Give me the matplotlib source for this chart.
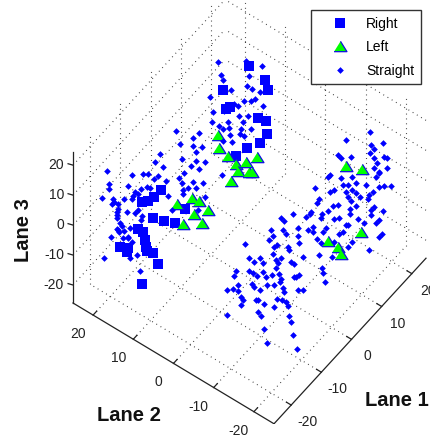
import matplotlib
matplotlib.use("Agg")
import matplotlib.pyplot as plt
from mpl_toolkits.mplot3d import proj3d

plt.rcParams["font.family"] = ["Liberation Sans", "DejaVu Sans"]

lane1_lim = (-25.7, 24.7)
lane2_lim = (-25, 25)
lane3_lim = (-26, 24.4)
lane1_ticks = [-20, -10, 0, 10, 20]
lane2_ticks = [-20, -10, 0, 10, 20]
lane3_ticks = [-20, -10, 0, 10, 20]

right_lane1 = [-14.1, -15.0, -15.6, -16.3, -15.2, -13.8, -12.5, -16.8, -16.2, -16.1, -15.9, -15.2, -14.6, -18.9, -18.1, -16.3, -15.7, -18.0,
               13.6, 15.5, 15.8, 10.5, 11.3, 10.8, 14.6, 15.6, 15.7, 14.9, 13.3, 12.0, -4.1]
right_lane2 = [11.7, 13.0, 13.8, 14.8, 13.1, 11.4, 9.6, 15.4, 14.6, 14.4, 14.1, 13.1, 12.3, 18.3, 17.2, 14.8, 14.0, 17.0,
               10.7, 8.1, 7.6, 14.9, 13.7, 14.4, 9.2, 7.9, 7.8, 8.9, 11.0, 12.8, 13.4]
right_lane3 = [9.6, 7.2, 5.9, 5.5, 0.5, -0.8, -1.5, -3.2, -4.5, -6.9, -9.2, -11.2, -14.9, -9.2, -10.9, -21.6, -10.9, -9.6,
               21.6, 16.9, 13.6, 13.6, 7.9, 7.2, 4.2, 3.2, -1.2, -4.2, -5.9, -8.6, -8.9]

left_lane1 = [9.9, 10.0, 11.1, 12.0, 13.2, 14.5, 12.3, 13.6, 13.9, 11.4,
              -5.1, -3.3, -2.5, -1.4, -3.1, -4.4, -2.1,
              11.2, 13.1, 12.9, 9.1, 10.3, 10.6]
left_lane2 = [15.7, 15.5, 14.1, 12.8, 11.2, 9.4, 12.4, 10.7, 10.2, 13.6,
              14.7, 12.2, 11.1, 9.7, 11.9, 13.7, 10.6,
              -15.3, -17.9, -17.6, -12.4, -14.0, -14.5]
left_lane3 = [-1.5, -5.9, -8.6, -11.2, -10.6, -8.9, -13.3, -13.9, -13.6, -16.9,
              -7.2, -5.2, -6.2, -9.2, -10.6, -13.9, -13.6,
              11.9, 10.9, -10.2, -13.3, -15.3, -17.6]

straight_lane1 = [
    -14.3, -11.7, -14.8, -14.0, -20.5, -17.5, -16.2, -15.6, -14.6, -15.0, -12.0, -11.4, -20.2, -20.2, -18.0, -13.6, -11.7, -16.5, -15.7, -15.4,
    -17.3, -17.4, -16.8, -21.1, -19.8, -18.5, -17.5, -13.3, -11.6, -19.2, -19.9, -19.6, -12.9, -19.2, -19.3, -18.1, -19.4, -19.3, -17.2, -16.8,
    -16.3, -16.5, -18.9, -18.8, -19.4, -18.5, -19.2, -17.8, -19.0, -20.0, -18.6, -18.0, -17.5, -18.0, -16.9, -20.9, -17.8, -16.7,
    9.9, 13.2, 15.1, 10.3, 13.6, 10.5, 13.3, 13.9, 11.4, 9.0, 13.0, 13.8, 14.3, 14.9, 12.3, 11.8, 15.2, 9.3, 13.4, 9.2, 12.9, 10.0, 10.5, 11.1, 11.2,
    4.9, 7.6, 12.6, 12.5, 13.0, 13.8, 6.9, 5.4, 6.9, 11.6, 8.0, 7.3, 7.3, 8.4, 6.7, 7.6, 10.6, 12.4, 11.3, 10.5,
    -3.2, -2.0, -3.8, -2.8, -4.4, -1.8, -2.6, 0.2,
    11.2, 14.0, 15.5, 14.1, 14.4, 14.0, 10.3, 10.6, 11.8, 15.7, 16.0, 14.4, 14.8, 14.4, 11.9, 9.3, 9.1, 10.6, 15.0, 14.7, 16.0, 15.1,
    10.9, 11.5, 12.3, 13.6, 15.6, 16.4, 15.0, 7.5, 9.8, 9.3, 11.9, 12.3, 11.1, 14.3, 13.8, 11.5, 11.8, 12.8, 13.7, 8.0, 7.8, 9.7, 10.2, 12.4,
    14.4, 14.2, 9.1, 11.6, 7.1, 7.0, 6.5, 8.4, 8.3, 15.5, 14.1, 11.6, 9.8, 10.4, 12.7, 15.0, 14.7, 11.1, 8.9, 8.5, 7.3, 6.7, 5.6, 5.6, 5.7, 7.3,
    11.5, 10.9, 10.4, 13.2, 15.4, 15.0, 7.8, 8.3, 9.8, 13.8, 11.5, 6.2, 8.0, 9.5, 11.9,
    -11.3, -10.9, -9.8, -12.4, -12.2, -12.7, -11.0, -10.7, -15.5, -12.1, -11.7, -10.4, -10.3, -12.2, -15.0, -13.7, -11.3, -11.8, -11.6, -10.1,
    -9.7, -14.4, -13.4, -11.8, -13.4, -16.6, -16.8, -15.0, -14.6, -14.1, -13.0, -12.3, -11.5, -11.3, -11.4, -9.7, -9.1, -9.5, -6.4, -6.3, -6.0,
    -16.3, -14.7, -14.4, -12.9, -12.1, -17.6, -16.9, -16.3, -13.7, -11.0, -10.9, -9.2, -8.6, -16.0, -15.7, -14.2, -14.0, -11.7, -11.1, -13.3,
    -16.0, -10.7, -10.4, -12.1, -17.6, -14.0, -13.6, -10.3, -10.1, -13.3, -9.8, -12.9, -9.4]
straight_lane2 = [
    12.0, 8.5, 12.7, 11.5, 20.4, 16.4, 14.6, 13.8, 12.3, 13.0, 8.8, 8.0, 20.1, 20.1, 17.0, 11.0, 8.5, 14.9, 14.0, 13.5,
    16.0, 16.2, 15.4, 21.2, 19.4, 17.6, 16.4, 10.6, 8.3, 18.6, 19.6, 19.3, 10.1, 18.6, 18.8, 17.2, 18.9, 18.8, 15.9, 15.4,
    14.8, 14.9, 18.3, 18.1, 18.9, 17.6, 18.6, 16.7, 18.5, 19.7, 17.8, 17.0, 16.4, 17.0, 15.6, 21.0, 16.7, 15.2,
    15.7, 11.2, 8.6, 15.2, 10.7, 14.9, 11.0, 10.2, 13.6, 17.0, 11.5, 10.4, 9.7, 8.9, 12.4, 13.1, 8.4, 16.5, 10.8, 16.6, 11.6, 15.5, 14.9, 14.1, 13.9,
    22.4, 18.7, 12.0, 12.1, 11.5, 10.4, 19.7, 21.8, 19.7, 13.4, 18.2, 19.2, 19.2, 17.8, 20.0, 18.7, 14.7, 12.3, 13.7, 14.9,
    12.1, 10.5, 12.9, 11.6, 13.7, 10.1, 11.3, 7.4,
    -15.3, -19.0, -21.1, -19.2, -19.7, -19.0, -14.0, -14.5, -16.1, -21.4, -21.8, -19.7, -20.2, -19.7, -16.3, -12.7, -12.4, -14.5, -20.5, -20.0, -21.8, -20.6,
    -14.8, -15.6, -16.8, -18.5, -21.3, -22.4, -20.5, -10.2, -13.4, -12.7, -16.3, -16.8, -15.2, -19.5, -18.9, -15.6, -16.1, -17.4, -18.7, -11.0, -10.6, -13.2, -13.9, -16.9,
    -19.7, -19.3, -12.4, -15.8, -9.7, -9.5, -8.9, -11.4, -11.3, -21.1, -19.2, -15.8, -13.4, -14.2, -17.2, -20.5, -20.0, -15.2, -12.1, -11.6, -10.0, -9.2, -7.6, -7.6, -7.7, -10.0,
    -15.6, -14.8, -14.2, -18.1, -21.0, -20.5, -10.6, -11.3, -13.4, -18.9, -15.6, -8.4, -11.0, -12.9, -16.3,
    -15.9, -16.4, -17.9, -14.3, -14.6, -14.0, -16.2, -16.7, -10.1, -14.8, -15.3, -17.1, -17.2, -14.6, -10.8, -12.5, -15.9, -15.1, -15.4, -17.5,
    -18.0, -11.6, -13.0, -15.1, -13.0, -8.7, -8.4, -10.8, -11.4, -12.1, -13.5, -14.5, -15.6, -15.9, -15.8, -18.0, -18.8, -18.3, -22.5, -22.7, -23.0,
    -9.0, -11.3, -11.6, -13.7, -14.8, -7.2, -8.2, -9.0, -12.5, -16.2, -16.4, -18.7, -19.5, -9.5, -9.8, -11.9, -12.2, -15.3, -16.1, -13.2,
    -9.5, -16.7, -17.1, -14.8, -7.2, -12.2, -12.7, -17.2, -17.5, -13.2, -17.9, -13.7, -18.5]
straight_lane3 = [
    21.6, 20.0, 19.0, 17.3, 15.9, 14.6, 14.9, 14.9, 14.3, 13.3, 13.9, 15.3, 11.6, 9.9, 10.9, 12.6, 11.9, 10.2, 10.6, 10.2,
    9.2, 7.6, 8.2, 6.9, 6.9, 6.9, 6.5, 7.6, 9.6, 5.2, 4.9, 5.5, 2.9, 3.5, 2.5, 2.2, 1.5, 0.5, 2.2, 2.9,
    0.8, -0.2, -1.2, -2.2, -3.2, -3.9, -3.5, -2.9, -4.5, -5.9, -6.2, -6.2, -7.6, -5.9, -11.9, -12.9, -12.9, -17.3,
    23.0, 23.3, 21.6, 18.6, 18.3, 16.9, 14.9, 13.9, 13.6, 11.2, 9.9, 9.9, 10.6, 12.9, 8.2, 8.9, 8.2, 6.2, 4.9, 2.9, 2.9, 1.5, 0.5, 2.9, 0.8,
    -0.2, -0.8, 0.5, -1.2, -1.8, 0.5, -2.5, -4.5, -5.2, -3.9, -5.5, -7.2, -10.2, -10.6, -11.9, -12.6, 6.5, 4.9, -1.5, -3.5,
    0.2, -0.2, -1.8, -1.8, -3.9, -4.9, -9.2, 2.5,
    20.3, 23.0, 19.3, 18.6, 17.6, 15.9, 15.3, 14.3, 14.9, 14.9, 14.3, 14.3, 12.9, 11.2, 8.2, 8.6, 7.9, 7.6, 9.6, 7.9, 11.2, 9.9,
    5.5, 5.2, 6.2, 5.5, 5.2, 5.2, 4.9, 4.2, 3.9, 3.2, 3.9, 2.9, 3.2, 3.2, 2.2, 1.2, 0.2, 1.2, 0.8, 0.8, -0.8, -1.5, -1.2, -1.5,
    -1.8, -2.9, -3.2, -2.5, -3.5, -4.2, -5.2, -4.5, -5.5, -3.2, -4.5, -4.2, -5.9, -5.5, -5.9, -6.2, -7.2, -7.9, -8.9, -10.2, -8.6, -9.6, -8.9, -11.6, -13.9, -10.2,
    -7.9, -10.2, -10.9, -7.2, -10.9, -11.9, -12.6, -13.9, -13.6, -16.3, -15.3, -18.6, -18.0, -18.6, -13.6,
    19.6, 18.6, 21.0, 15.3, 13.6, 12.2, 15.3, 14.3, 10.9, 9.9, 10.6, 9.9, 8.9, 7.6, 6.2, 6.2, 6.2, 5.5, 4.5, 4.9,
    4.2, 4.9, 4.5, 2.9, 1.5, 1.8, 0.2, 1.8, 1.2, 0.2, -0.2, 0.5, 0.8, -0.8, -1.8, -0.2, 0.5, -0.2, 2.9, 1.2, -1.8,
    -2.9, -2.5, -3.5, -2.9, -2.9, -4.5, -4.2, -4.9, -4.5, -3.9, -5.2, -4.5, -4.5, -6.9, -7.9, -7.9, -7.9, -7.6, -7.9, -9.2,
    -9.6, -8.6, -9.9, -10.2, -12.9, -11.9, -13.3, -13.3, -15.3, -17.6, -19.6, -22.3, -24.3]

fig = plt.figure(figsize=(4.31, 4.36), dpi=100)
ax = fig.add_axes([0.05, 0.05, 0.9, 0.9], projection="3d", proj_type="ortho", computed_zorder=False)
ax.set_xlim(*lane1_lim)
ax.set_ylim(*lane2_lim)
ax.set_zlim(*lane3_lim)
ax.view_init(elev=54, azim=216.6)
ax.set_box_aspect((50.4 * 5.03, 50 * 4.98, 50.4 * 5.07))
ax.set_axis_off()

l1a, l1b = lane1_lim
l2a, l2b = lane2_lim
l3a, l3b = lane3_lim

grid = dict(color="#333333", lw=0.8, ls=(0, (0.8, 3.6)), zorder=1)
for t in lane3_ticks:
    ax.plot([l1a, l1b], [l2b, l2b], [t, t], **grid)
    ax.plot([l1b, l1b], [l2a, l2b], [t, t], **grid)
for t in lane1_ticks:
    ax.plot([t, t], [l2a, l2b], [l3a, l3a], **grid)
    ax.plot([t, t], [l2b, l2b], [l3a, l3b], **grid)
for t in lane2_ticks:
    ax.plot([l1a, l1b], [t, t], [l3a, l3a], **grid)
    ax.plot([l1b, l1b], [t, t], [l3a, l3b], **grid)

axis = dict(color="#222222", lw=0.9, zorder=1.5)
ax.plot([l1a, l1a], [l2b, l2b], [l3a, l3b], **axis)
ax.plot([l1a, l1a], [l2a, l2b], [l3a, l3a], **axis)
ax.plot([l1a, l1b], [l2a, l2a], [l3a, l3a], **axis)

for t in lane3_ticks:
    ax.plot([l1a, l1a - 0.3], [l2b, l2b + 1.0], [t, t], **axis)
for t in lane2_ticks:
    ax.plot([l1a, l1a + 1.2], [t, t], [l3a, l3a], **axis)
for t in lane1_ticks:
    ax.plot([t, t], [l2a, l2a + 1.2], [l3a, l3a], **axis)

# wider than tall, like the reference triangles
tri = [(-1, -0.8), (1, -0.8), (0, 0.8)]
ax.plot(right_lane1, right_lane2, right_lane3, ls="none", marker="s", ms=7.8, mfc="#0000ff", mec="#0000ff", mew=0, zorder=2, label="Right")
ax.plot(left_lane1, left_lane2, left_lane3, ls="none", marker=tri, ms=9.3, mfc="#00ff00", mec="#1010e0", mew=0.9, zorder=3, label="Left")
ax.plot(straight_lane1, straight_lane2, straight_lane3, ls="none", marker="D", ms=3.4, mfc="#0000ff", mec="#0000ff", mew=0, zorder=4, label="Straight")

ax.legend(loc="upper right", bbox_to_anchor=(421 / 431, 1 - 10 / 436), bbox_transform=fig.transFigure,
          borderaxespad=0, fontsize=10, fancybox=False, framealpha=1, edgecolor="#333333",
          numpoints=1, borderpad=0.5, handlelength=3.17, handletextpad=0.29, labelspacing=0.67)

fig.text(24 / 431, 1 - 230 / 436, "Lane 3", rotation=90, ha="center", va="center", fontsize=14.5, fontweight="bold", color="#111111")
fig.text(129 / 431, 1 - 415 / 436, "Lane 2", ha="center", va="center", fontsize=14.5, fontweight="bold", color="#111111")
fig.text(397 / 431, 1 - 400 / 436, "Lane 1", ha="center", va="center", fontsize=14.5, fontweight="bold", color="#111111")


# move the axes so the box corners land where they are in the picture
def corner_px(l1, l2, l3):
    ax.apply_aspect()
    x, y, _ = proj3d.proj_transform(l1, l2, l3, ax.get_proj())
    return ax.transData.transform((x, y))


a = corner_px(l1a, l2b, l3a)
c = corner_px(l1b, l2a, l3a)
scale = (426 - 73) / (c[0] - a[0])
pos = ax.get_position()
ax.set_position([pos.x0, pos.y0, pos.width * scale, pos.height * scale])
a = corner_px(l1a, l2b, l3a)
pos = ax.get_position()
ax.set_position([pos.x0 + (73 - a[0]) / 431, pos.y0 + (436 - 303 - a[1]) / 436, pos.width, pos.height])


# tick labels go on after the axes are placed, at their projected spots
def tick_label(l1, l2, l3, s, ha):
    x, y = corner_px(l1, l2, l3)
    fig.text(x / 431, y / 436, s, ha=ha, va="center", fontsize=10, color="#222222")


for t in lane3_ticks:
    tick_label(l1a - 1.06, l2b + 1.45, t, str(t), "right")
for t in lane2_ticks:
    tick_label(l1a - 5.5, t - 0.4, l3a, str(t), "center")
for t in lane1_ticks:
    tick_label(t - 1.45, l2a - 5.1, l3a, str(t), "center")

fig.savefig("out.png", dpi=100)
